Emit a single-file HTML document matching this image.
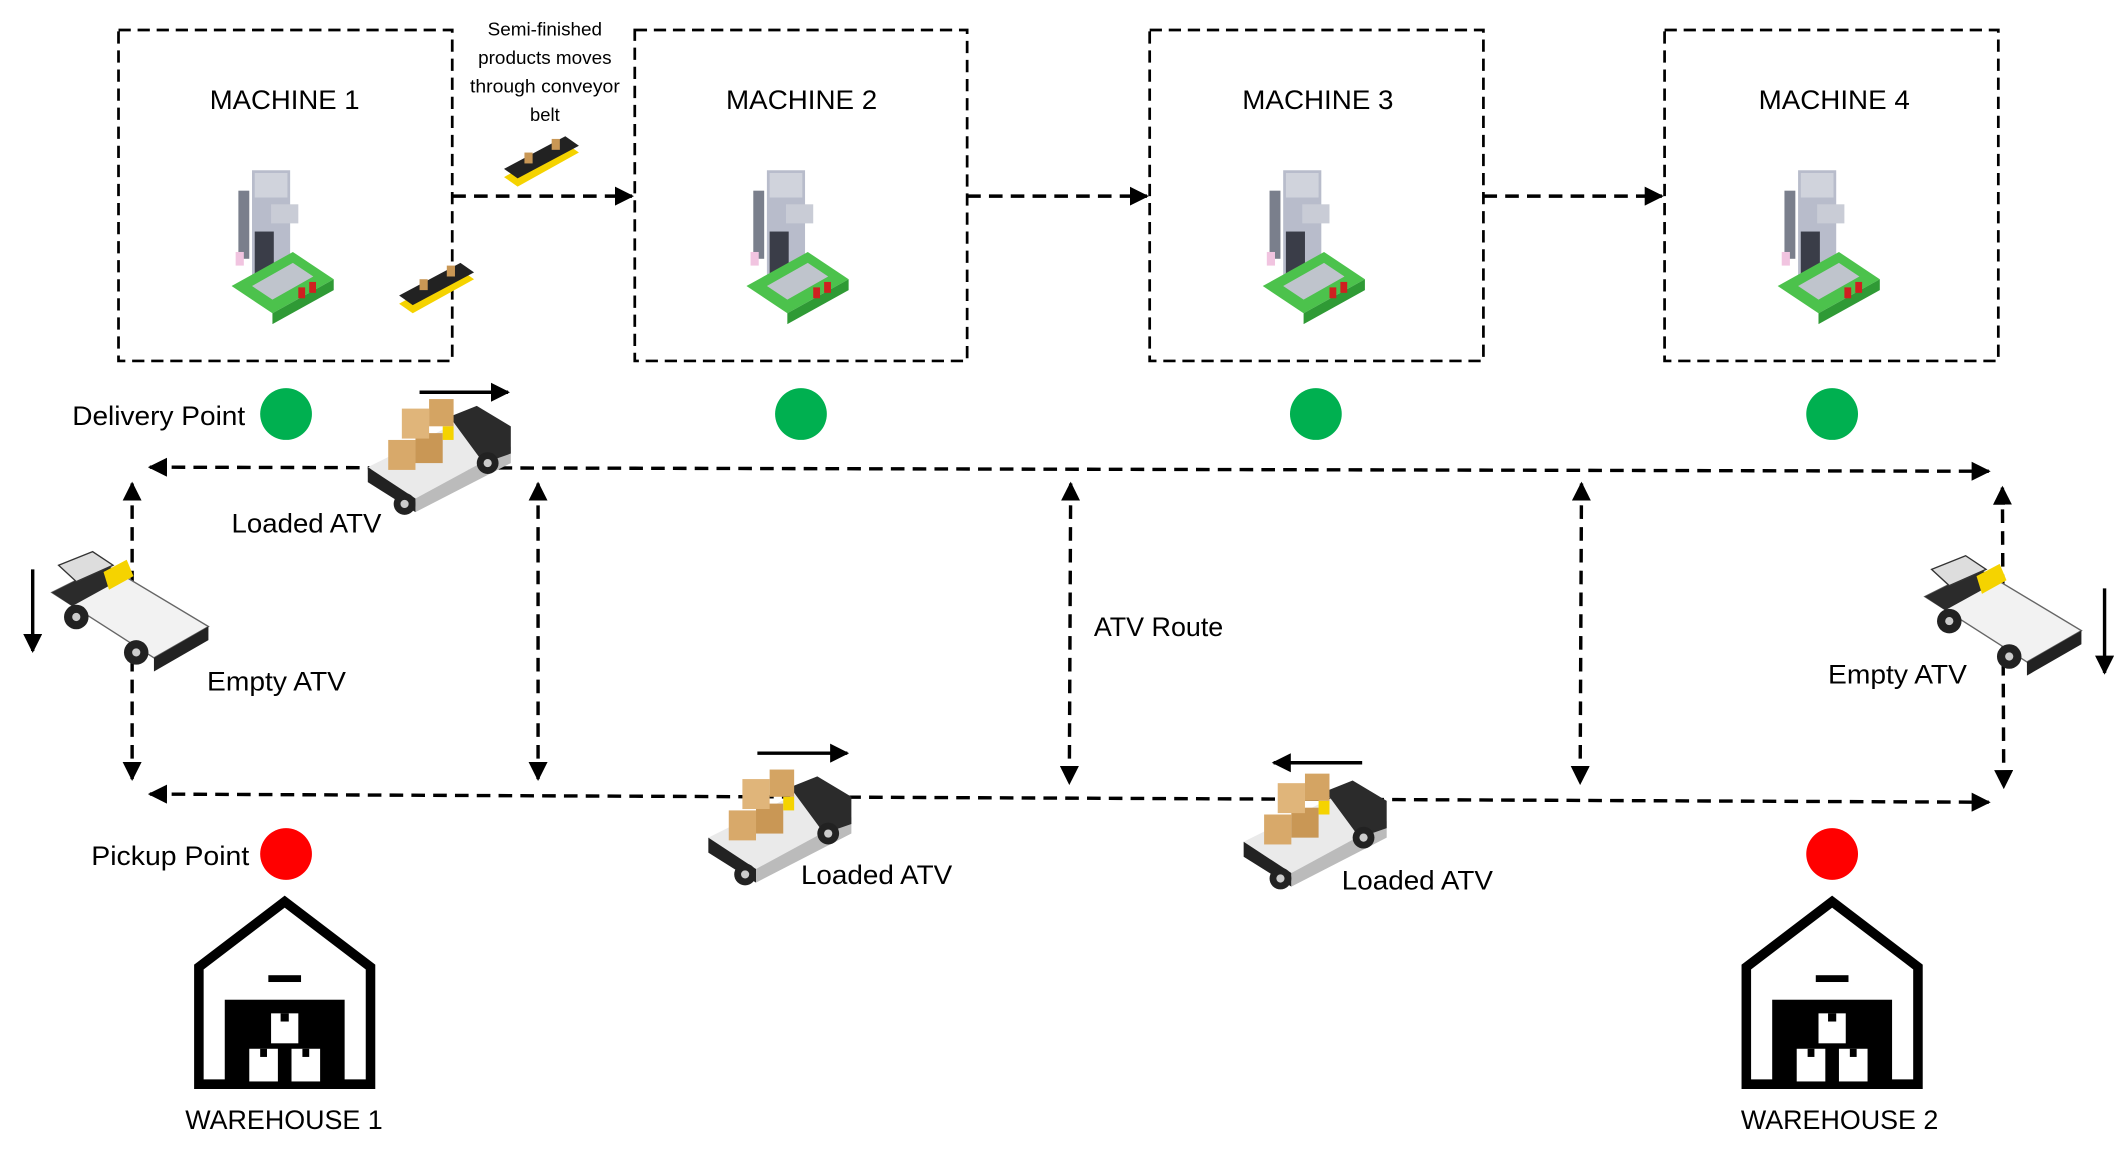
<!DOCTYPE html>
<html><head><meta charset="utf-8"><style>
html,body{margin:0;padding:0;background:#fff;}
svg{display:block;}
text{font-family:"Liberation Sans",sans-serif;fill:#000;}
</style></head><body>
<svg width="2125" height="1155" viewBox="0 0 1560 848" preserveAspectRatio="none" xmlns="http://www.w3.org/2000/svg">
<defs>
<marker id="ah2" viewBox="0 0 10 10" refX="9" refY="5" markerWidth="14" markerHeight="14" orient="auto-start-reverse" markerUnits="userSpaceOnUse">
<path d="M0,0 L10,5 L0,10 z" fill="#000"/></marker>
<g id="machine">
<rect x="-30" y="-65" width="8" height="50" fill="#7a7f8c"/>
<rect x="-20" y="-80" width="28" height="80" fill="#b8bccb"/>
<rect x="-18" y="-78" width="24" height="18" fill="#d0d3dc"/>
<rect x="-6" y="-55" width="20" height="14" fill="#c9ccd6"/>
<rect x="-18" y="-35" width="14" height="40" fill="#3a3d48"/>
<rect x="-32" y="-20" width="6" height="10" fill="#f1c4e0"/>
<path d="M-35,5 L10,-20 L40,0 L-5,25 z" fill="#4cc24c"/>
<path d="M-20,5 L10,-12 L25,-2 L-5,15 z" fill="#bfc4cc"/>
<path d="M-5,25 L40,0 L40,8 L-5,33 z" fill="#2f9a35"/>
<rect x="14" y="6" width="5" height="8" fill="#d02020"/><rect x="22" y="2" width="5" height="8" fill="#d02020"/>
</g>
<g id="loaded">
<path d="M0,25 L70,-10 L105,10 L35,48 z" fill="#eaeaea"/>
<path d="M0,25 L35,48 L35,58 L0,36 z" fill="#222"/>
<path d="M35,48 L105,10 L105,22 L35,58 z" fill="#bbb"/>
<path d="M60,-12 L80,-20 L105,-5 L105,15 L85,22 z" fill="#2b2b2b"/>
<circle cx="27" cy="52" r="8" fill="#222"/><circle cx="27" cy="52" r="3" fill="#ccc"/>
<circle cx="88" cy="22" r="8" fill="#222"/><circle cx="88" cy="22" r="3" fill="#ccc"/>
<rect x="15" y="5" width="20" height="22" fill="#d8a96a"/>
<rect x="35" y="0" width="20" height="22" fill="#c99755"/>
<rect x="25" y="-18" width="20" height="22" fill="#e0b57a"/>
<rect x="45" y="-25" width="18" height="20" fill="#d4a463"/>
<rect x="55" y="-5" width="8" height="10" fill="#f5d300"/>
</g>
<g id="empty">
<path d="M0,20 L40,0 L115,45 L75,68 z" fill="#f2f2f2" stroke="#666" stroke-width="1"/>
<path d="M75,68 L115,45 L115,55 L75,78 z" fill="#222"/>
<path d="M0,20 L40,0 L55,8 L15,30 z" fill="#2b2b2b"/>
<path d="M38,5 L55,-4 L60,8 L42,18 z" fill="#f5d300"/>
<path d="M5,0 L30,-10 L45,0 L18,12 z" fill="#ddd" stroke="#333"/>
<circle cx="18" cy="38" r="9" fill="#222"/><circle cx="18" cy="38" r="3" fill="#ccc"/>
<circle cx="62" cy="64" r="9" fill="#222"/><circle cx="62" cy="64" r="3" fill="#ccc"/>
</g>
<g id="conv">
<path d="M0,20 L45,-5 L55,2 L10,27 z" fill="#f5d300"/>
<path d="M0,14 L45,-10 L55,-3 L10,21 z" fill="#222"/>
<rect x="15" y="2" width="6" height="8" fill="#c99755"/><rect x="35" y="-8" width="6" height="8" fill="#c99755"/>
</g>
<g id="wh">
<path d="M-63,40 L0,-8 L63,40 L63,126 L-63,126 z" fill="none" stroke="#000" stroke-width="7" stroke-linejoin="miter"/>
<rect x="-12" y="46" width="24" height="5" fill="#000"/>
<rect x="-44" y="64" width="88" height="60" fill="#000"/>
<rect x="-10" y="74" width="20" height="22" fill="#fff"/>
<rect x="-26" y="100" width="21" height="24" fill="#fff"/>
<rect x="5" y="100" width="21" height="24" fill="#fff"/>
<rect x="-3" y="74" width="6" height="6" fill="#000"/>
<rect x="-18" y="100" width="5" height="6" fill="#000"/>
<rect x="13" y="100" width="5" height="6" fill="#000"/>
</g>
</defs>

<g fill="none" stroke="#000" stroke-width="2" stroke-dasharray="9,5">
<rect x="87" y="22" width="245" height="243"/>
<rect x="466" y="22" width="244" height="243"/>
<rect x="844" y="22" width="245" height="243"/>
<rect x="1222" y="22" width="245" height="243"/>
</g>
<g font-size="20">
<text x="154" y="80" textLength="110" lengthAdjust="spacingAndGlyphs">MACHINE 1</text>
<text x="533" y="80" textLength="111" lengthAdjust="spacingAndGlyphs">MACHINE 2</text>
<text x="912" y="80" textLength="111" lengthAdjust="spacingAndGlyphs">MACHINE 3</text>
<text x="1291" y="80" textLength="111" lengthAdjust="spacingAndGlyphs">MACHINE 4</text>
</g>
<use href="#machine" x="205" y="205"/>
<use href="#machine" x="583" y="205"/>
<use href="#machine" x="962" y="205"/>
<use href="#machine" x="1340" y="205"/>
<use href="#conv" x="293" y="203"/>
<use href="#conv" x="370" y="110"/>

<g font-size="13.5" text-anchor="middle">
<text x="400" y="26" textLength="84" lengthAdjust="spacingAndGlyphs">Semi-finished</text>
<text x="400" y="47" textLength="98" lengthAdjust="spacingAndGlyphs">products moves</text>
<text x="400" y="68" textLength="110" lengthAdjust="spacingAndGlyphs">through conveyor</text>
<text x="400" y="89">belt</text>
</g>

<g fill="none" stroke="#000" stroke-width="2.5" stroke-dasharray="10,6">
<line x1="332" y1="144" x2="464" y2="144" marker-end="url(#ah2)"/>
<line x1="710" y1="144" x2="842" y2="144" marker-end="url(#ah2)"/>
<line x1="1089" y1="144" x2="1220" y2="144" marker-end="url(#ah2)"/>
<line x1="110" y1="343" x2="1460" y2="346" marker-start="url(#ah2)" marker-end="url(#ah2)"/>
<line x1="110" y1="583" x2="1460" y2="589" marker-start="url(#ah2)" marker-end="url(#ah2)"/>
<line x1="97" y1="355" x2="97" y2="572" marker-start="url(#ah2)" marker-end="url(#ah2)"/>
<line x1="395" y1="355" x2="395" y2="572" marker-start="url(#ah2)" marker-end="url(#ah2)"/>
<line x1="786" y1="355" x2="785" y2="575" marker-start="url(#ah2)" marker-end="url(#ah2)"/>
<line x1="1161" y1="355" x2="1160" y2="575" marker-start="url(#ah2)" marker-end="url(#ah2)"/>
<line x1="1470" y1="358" x2="1471" y2="578" marker-start="url(#ah2)" marker-end="url(#ah2)"/>
</g>
<g stroke="#000" stroke-width="2.5">
<line x1="24" y1="418" x2="24" y2="478" marker-end="url(#ah2)"/>
<line x1="1545" y1="432" x2="1545" y2="494" marker-end="url(#ah2)"/>
<line x1="308" y1="288" x2="373" y2="288" marker-end="url(#ah2)"/>
<line x1="556" y1="553" x2="622" y2="553" marker-end="url(#ah2)"/>
<line x1="1000" y1="560" x2="935" y2="560" marker-end="url(#ah2)"/>
</g>

<g fill="#00b050">
<ellipse cx="210" cy="304" rx="19" ry="19"/>
<ellipse cx="588" cy="304" rx="19" ry="19"/>
<ellipse cx="966" cy="304" rx="19" ry="19"/>
<ellipse cx="1345" cy="304" rx="19" ry="19"/>
</g>
<g fill="#ff0000">
<ellipse cx="210" cy="627" rx="19" ry="19"/>
<ellipse cx="1345" cy="627" rx="19" ry="19"/>
</g>

<use href="#loaded" x="270" y="318"/>
<use href="#loaded" x="520" y="590"/>
<use href="#loaded" x="913" y="593"/>
<use href="#empty" x="38" y="415"/>
<use href="#empty" x="1413" y="418"/>

<use href="#wh" x="209" y="670"/>
<use href="#wh" x="1345" y="670"/>

<g font-size="20">
<text x="53" y="312" textLength="127" lengthAdjust="spacingAndGlyphs">Delivery Point</text>
<text x="170" y="391" textLength="110" lengthAdjust="spacingAndGlyphs">Loaded ATV</text>
<text x="152" y="507" textLength="102" lengthAdjust="spacingAndGlyphs">Empty ATV</text>
<text x="803" y="467" textLength="95" lengthAdjust="spacingAndGlyphs">ATV Route</text>
<text x="1342" y="502" textLength="102" lengthAdjust="spacingAndGlyphs">Empty ATV</text>
<text x="67" y="635" textLength="116" lengthAdjust="spacingAndGlyphs">Pickup Point</text>
<text x="588" y="649" textLength="111" lengthAdjust="spacingAndGlyphs">Loaded ATV</text>
<text x="985" y="653" textLength="111" lengthAdjust="spacingAndGlyphs">Loaded ATV</text>
<text x="136" y="829" textLength="145" lengthAdjust="spacingAndGlyphs">WAREHOUSE 1</text>
<text x="1278" y="829" textLength="145" lengthAdjust="spacingAndGlyphs">WAREHOUSE 2</text>
</g>
</svg>
</body></html>
